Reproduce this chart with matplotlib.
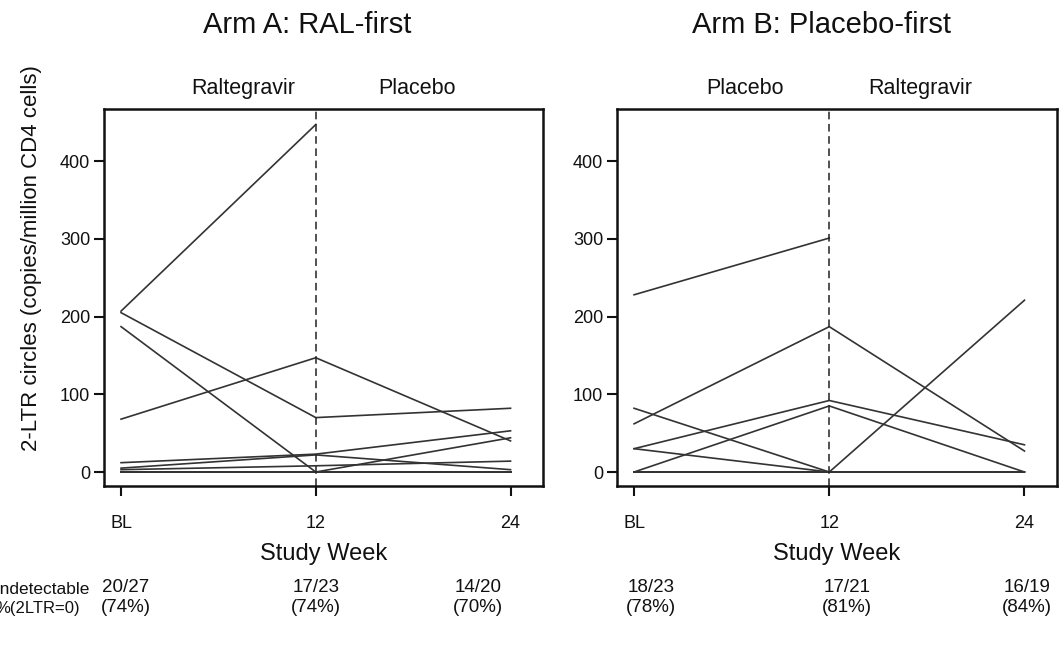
import numpy as np
import matplotlib
matplotlib.use("Agg")
import matplotlib.pyplot as plt

# ========================
# DATA (2-LTR circles, copies/million CD4 cells; nan = missing visit)
# ========================
nan = np.nan
weeks = [0, 12, 24]
week_labels = ["BL", "12", "24"]

arm_a_bl = [207, 205, 187, 68, 12, 5, 3,
            0, 0, 0, 0, 0, 0, 0, 0, 0, 0, 0, 0, 0, 0,
            0, 0, 0, 0, 0, 0]
arm_a_w12 = [447, 70, 0, 147, 23, 22, 8,
             0, 0, 0, 0, 0, 0, 0, 0, 0, 0, 0, 0, 0, 0,
             0, 0, nan, nan, nan, nan]
arm_a_w24 = [nan, 82, 44, 40, 53, 3, 14,
             0, 0, 0, 0, 0, 0, 0, 0, 0, 0, 0, 0, 0, 0,
             nan, nan, nan, nan, nan, nan]

arm_b_bl = [228, 62, 82, 30, 30, 0, 0,
            0, 0, 0, 0, 0, 0, 0, 0, 0, 0, 0, 0, 0,
            0, 0, 0]
arm_b_w12 = [301, 187, 0, 92, 0, 85, 0,
             0, 0, 0, 0, 0, 0, 0, 0, 0, 0, 0, 0, 0,
             0, nan, nan]
arm_b_w24 = [nan, 27, 0, 35, 0, 0, 221,
             0, 0, 0, 0, 0, 0, 0, 0, 0, 0, 0, 0, 0,
             nan, nan, nan]

arms = [
    {"title": "Arm A: RAL-first", "phases": ["Raltegravir", "Placebo"],
     "visits": [arm_a_bl, arm_a_w12, arm_a_w24]},
    {"title": "Arm B: Placebo-first", "phases": ["Placebo", "Raltegravir"],
     "visits": [arm_b_bl, arm_b_w12, arm_b_w24]},
]

plt.rcParams["font.family"] = ["Liberation Sans", "DejaVu Sans"]

W, H = 1059, 649
fig = plt.figure(figsize=(W / 100, H / 100), dpi=100)

# axes boxes in pixels: left, top, right, bottom
boxes = [(104, 109, 543, 486), (617, 109, 1057, 486)]
title_x = [307, 821]
phase_x = [(243, 417), (745, 920)]
count_x = [(126, 316, 478), (651, 847, 1027)]


def fx(px):
    return px / W


def fy(py):
    return 1 - py / H


for arm, box, tx, px, cx in zip(arms, boxes, title_x, phase_x, count_x):
    l, t, r, b = box
    ax = fig.add_axes([fx(l), fy(b), fx(r - l), (b - t) / H])

    # one line per participant
    vals = np.array(arm["visits"], dtype=float).T
    for row in vals:
        ax.plot(weeks, row, color="#333333", linewidth=1.2)

    ax.axvline(12, color="#222222", linewidth=1.1, linestyle=(0, (5, 3)))

    ax.set_xlim(-1.05, 26)
    ax.set_ylim(-18, 467)
    ax.set_xticks(weeks)
    ax.set_xticklabels(week_labels)
    ax.set_yticks([0, 100, 200, 300, 400])
    ax.tick_params(direction="out", length=7, width=1.5, labelsize=13,
                   colors="#111111")
    ax.tick_params(axis="x", pad=14)
    ax.tick_params(axis="y", pad=3)
    for s in ax.spines.values():
        s.set_linewidth(1.8)
        s.set_color("#111111")

    fig.text(fx(tx), fy(33), arm["title"], fontsize=21, ha="center",
             va="baseline", color="#111111")
    fig.text(fx(px[0]), fy(94), arm["phases"][0], fontsize=15.5,
             ha="center", va="baseline", color="#111111")
    fig.text(fx(px[1]), fy(94), arm["phases"][1], fontsize=15.5,
             ha="center", va="baseline", color="#111111")
    fig.text(fx((l + r) / 2), fy(560), "Study Week", fontsize=17,
             ha="center", va="baseline", color="#111111")

    # undetectable counts per visit
    for x, col in zip(cx, vals.T):
        seen = col[~np.isnan(col)]
        n0 = int((seen == 0).sum())
        n = len(seen)
        fig.text(fx(x), fy(588), f"{n0}/{n}", fontsize=13.5, ha="center",
                 va="center", color="#111111")
        fig.text(fx(x), fy(608), f"({round(100 * n0 / n)}%)", fontsize=13.5,
                 ha="center", va="center", color="#111111")

fig.text(fx(32), fy(258), "2-LTR circles (copies/million CD4 cells)",
         fontsize=16, rotation=90, ha="center", va="center", color="#111111")
fig.text(fx(90), fy(589), "Undetectable", fontsize=12.5, ha="right",
         va="center", color="#111111")
fig.text(fx(80), fy(608), "%(2LTR=0)", fontsize=12, ha="right",
         va="center", color="#111111")

fig.savefig("out.png", dpi=100)
